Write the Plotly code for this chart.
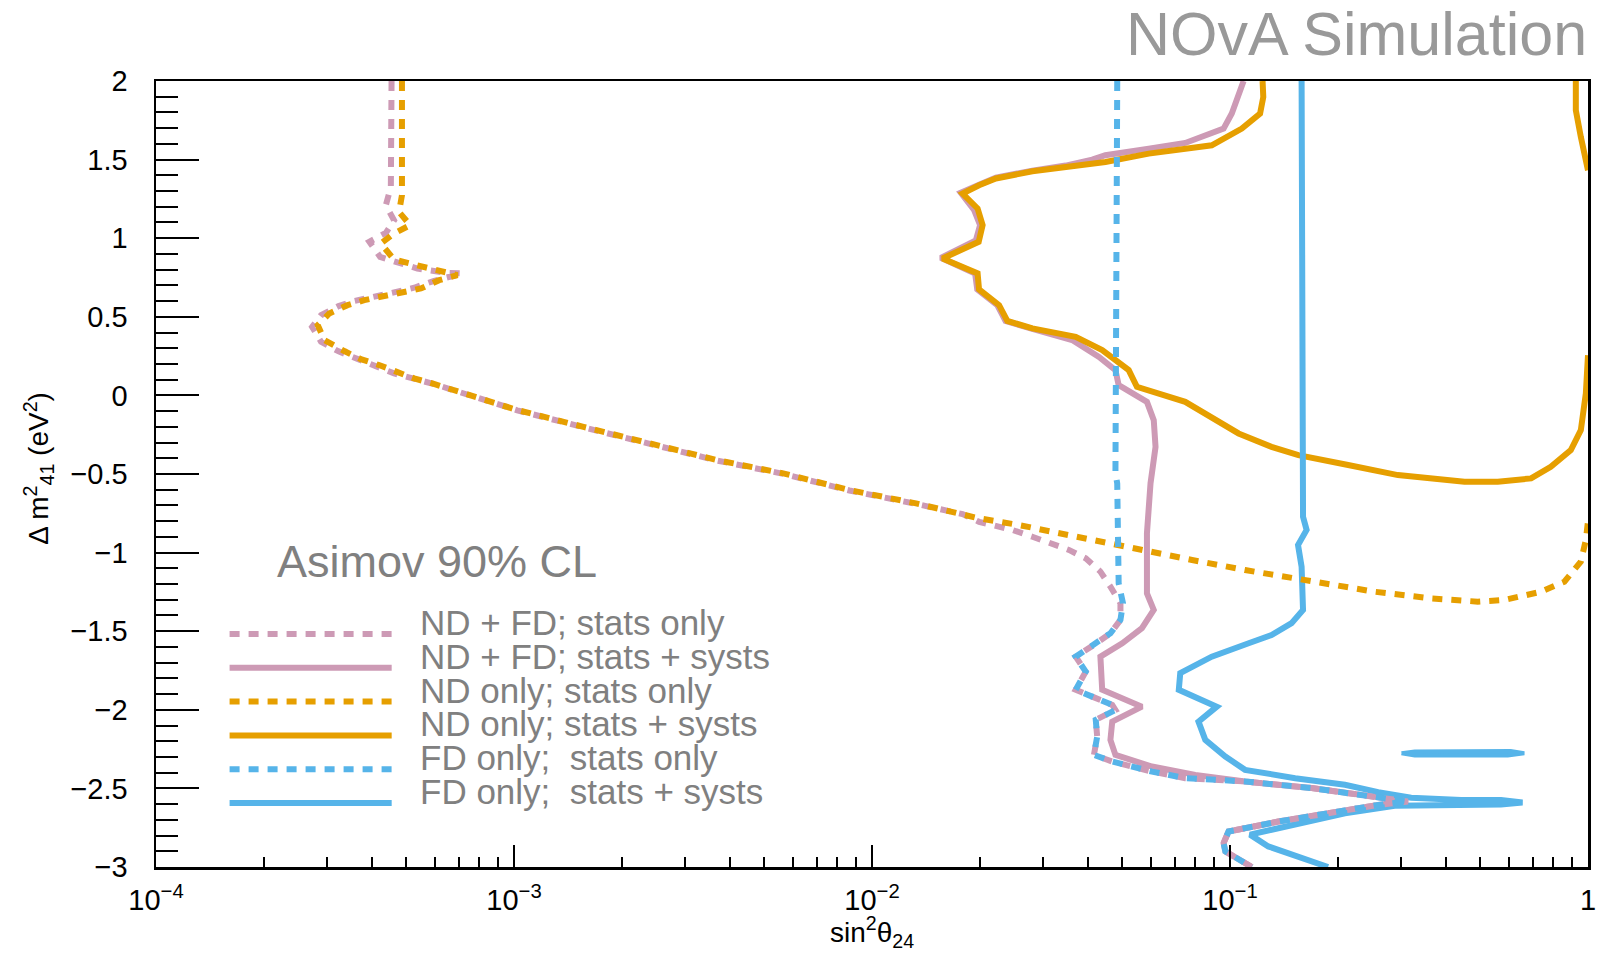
import numpy as np
import plotly.graph_objects as go

# ---------------- data ----------------
# x values are log10(sin^2 theta_24), y values are log10(Delta m^2_41 / eV^2)

# ND + FD; stats only
ndfd_stat_lx = [-3.342, -3.342, -3.344, -3.358, -3.335, -3.358, -3.404, -3.374, -3.325, -3.27,
                -3.186, -3.144, -3.223, -3.279, -3.335, -3.39, -3.446, -3.49, -3.539, -3.564,
                -3.539, -3.49, -3.437, -3.335, -3.223, -3.093, -2.991, -2.806, -2.62, -2.434,
                -2.248, -2.063, -1.877, -1.747, -1.701, -1.608, -1.552, -1.496, -1.45, -1.403,
                -1.362, -1.334, -1.306, -1.306, -1.334, -1.38, -1.431, -1.403, -1.431, -1.385,
                -1.329, -1.32, -1.375, -1.371, -1.38, -1.329, -1.218, -1.125, -0.958, -0.772,
                -0.633, -0.503, -0.586, -0.726, -0.865, -1.004, -1.018, -1.013, -0.939]
ndfd_stat_y = [2.0, 1.455, 1.326, 1.21, 1.114, 1.034, 0.977, 0.881, 0.843, 0.807,
               0.779, 0.776, 0.729, 0.685, 0.655, 0.631, 0.601, 0.568, 0.510, 0.436,
               0.341, 0.280, 0.229, 0.14, 0.072, -0.019, -0.095, -0.203, -0.308, -0.414,
               -0.499, -0.605, -0.690, -0.755, -0.804, -0.856, -0.899, -0.941, -0.983, -1.036,
               -1.121, -1.217, -1.322, -1.428, -1.513, -1.587, -1.662, -1.757, -1.873, -1.916,
               -1.969, -2.001, -2.064, -2.170, -2.287, -2.329, -2.393, -2.435, -2.456, -2.498,
               -2.541, -2.584, -2.605, -2.658, -2.711, -2.774, -2.848, -2.901, -3.0]

# ND + FD; stats + systs
ndfd_syst_lx = [-0.962, -0.995, -1.018, -1.069, -1.125, -1.227, -1.348, -1.385, -1.459, -1.552,
                -1.654, -1.701, -1.752, -1.715, -1.698, -1.710, -1.808, -1.712, -1.706, -1.650,
                -1.627, -1.557, -1.441, -1.366, -1.320, -1.311, -1.232, -1.213, -1.208, -1.222,
                -1.232, -1.232, -1.213, -1.246, -1.301, -1.362, -1.357, -1.246, -1.329, -1.334,
                -1.320, -1.218, -1.097, -0.958, -0.772, -0.633, -0.503, -0.586, -0.726, -0.865,
                -1.004, -1.018, -1.013, -0.939]
ndfd_syst_y = [2.0, 1.793, 1.697, 1.655, 1.606, 1.570, 1.528, 1.500, 1.462, 1.430,
               1.385, 1.340, 1.290, 1.180, 1.083, 0.985, 0.875, 0.776, 0.674, 0.574,
               0.474, 0.426, 0.352, 0.245, 0.161, 0.065, -0.041, -0.157, -0.327, -0.559,
               -0.877, -1.259, -1.365, -1.481, -1.577, -1.662, -1.873, -1.980, -2.075, -2.191,
               -2.287, -2.361, -2.414, -2.456, -2.498, -2.541, -2.584, -2.605, -2.658, -2.711,
               -2.774, -2.848, -2.901, -3.0]

# ND only; stats only
nd_stat_lx = [-3.313, -3.313, -3.321, -3.29, -3.335, -3.372, -3.335, -3.279, -3.223, -3.158,
              -3.209, -3.26, -3.316, -3.372, -3.418, -3.465, -3.516, -3.548, -3.53, -3.474,
              -3.428, -3.377, -3.325, -3.279, -3.228, -3.177, -3.126, -3.075, -2.991, -2.806,
              -2.62, -2.434, -2.248, -2.063, -1.877, -1.747, -1.701, -1.589, -1.478, -1.329,
              -1.218, -1.106, -0.958, -0.818, -0.698, -0.596, -0.438, -0.308, -0.233, -0.131,
              -0.066, -0.02, -0.006, 0.0]
nd_stat_y = [2.0, 1.273, 1.167, 1.083, 1.030, 0.966, 0.864, 0.828, 0.801, 0.765,
             0.733, 0.680, 0.655, 0.631, 0.606, 0.574, 0.521, 0.447, 0.352, 0.282,
             0.231, 0.193, 0.146, 0.108, 0.076, 0.038, 0.002, -0.03, -0.093, -0.2,
             -0.305, -0.411, -0.496, -0.602, -0.687, -0.75, -0.782, -0.825, -0.877, -0.952,
             -1.004, -1.047, -1.111, -1.163, -1.217, -1.249, -1.291, -1.312, -1.301, -1.249,
             -1.185, -1.058, -0.92, -0.80]

# ND only; stats + systs (two pieces, separated by a gap)
nd_syst_lx = [-0.909, -0.907, -0.916, -0.967, -1.051, -1.125, -1.227, -1.348, -1.459, -1.552,
              -1.654, -1.701, -1.747, -1.705, -1.691, -1.702, -1.803, -1.705, -1.701, -1.645,
              -1.622, -1.552, -1.431, -1.357, -1.283, -1.26, -1.125, -0.976, -0.884, -0.809,
              -0.670, -0.531, -0.345, -0.252, -0.159, -0.104, -0.048, -0.02, -0.006, 0.0,
              None, -0.034, -0.034, -0.02, 0.0]
nd_syst_y = [2.0, 1.898, 1.793, 1.697, 1.591, 1.570, 1.538, 1.485, 1.458, 1.426,
             1.380, 1.337, 1.284, 1.189, 1.083, 0.977, 0.871, 0.776, 0.674, 0.574,
             0.474, 0.426, 0.373, 0.288, 0.161, 0.055, -0.041, -0.242, -0.327, -0.380,
             -0.443, -0.507, -0.549, -0.549, -0.528, -0.454, -0.348, -0.221, 0.013, 0.256,
             None, 2.0, 1.814, 1.644, 1.432]

# FD only; stats only
fd_stat_lx = [-1.315, -1.32, -1.315, -1.311, -1.311, -1.299, -1.306, -1.334, -1.38, -1.431,
              -1.403, -1.431, -1.385, -1.329, -1.32, -1.375, -1.371, -1.38, -1.329, -1.218,
              -1.125, -0.958, -0.772, -0.633, -0.503, -0.586, -0.726, -0.865, -1.004, -1.018,
              -1.013, -0.939]
fd_stat_y = [2.0, -0.494, -0.56, -0.962, -1.195, -1.322, -1.428, -1.513, -1.587, -1.662,
             -1.757, -1.873, -1.916, -1.969, -2.001, -2.064, -2.170, -2.287, -2.329, -2.393,
             -2.435, -2.456, -2.498, -2.541, -2.584, -2.605, -2.658, -2.711, -2.774, -2.848,
             -2.901, -3.0]

# FD only; stats + systs
fd_syst_lx = [-0.8, -0.8, -0.8, -0.796, -0.786, -0.81, -0.8, -0.796, -0.828, -0.884,
              -0.948, -1.051, -1.139, -1.143, -1.037, -1.088, -1.069, -1.013, -0.958, -0.818,
              -0.679, -0.586, -0.494, -0.354, -0.243, -0.183, -0.243, -0.401, -0.54, -0.679,
              -0.818, -0.944, -0.893, -0.818, -0.726]
fd_syst_y = [2.0, -0.348, -0.538, -0.772, -0.856, -0.952, -1.09, -1.365, -1.449, -1.524,
             -1.577, -1.662, -1.767, -1.873, -1.980, -2.075, -2.191, -2.297, -2.382, -2.435,
             -2.477, -2.524, -2.560, -2.573, -2.573, -2.590, -2.603, -2.603, -2.610, -2.658,
             -2.731, -2.794, -2.869, -2.932, -3.0]
# small closed FD (stats + systs) island
fd_island_lx = [-0.521, -0.484, -0.216, -0.178, -0.224, -0.484, -0.521]
fd_island_y = [-2.276, -2.266, -2.262, -2.276, -2.290, -2.290, -2.276]

legend_labels = ["ND + FD; stats only", "ND + FD; stats + systs",
                 "ND only; stats only", "ND only; stats + systs",
                 "FD only;  stats only", "FD only;  stats + systs"]

x_tick_vals = [1e-4, 1e-3, 1e-2, 1e-1, 1]
x_tick_text = ["10<sup>\u22124</sup>", "10<sup>\u22123</sup>", "10<sup>\u22122</sup>",
               "10<sup>\u22121</sup>", "1"]
y_tick_vals = [2, 1.5, 1, 0.5, 0, -0.5, -1, -1.5, -2, -2.5, -3]
y_tick_text = ["2", "1.5", "1", "0.5", "0", "\u22120.5", "\u22121", "\u22121.5",
               "\u22122", "\u22122.5", "\u22123"]

# ---------------- styling ----------------
PINK = "#CD9AB5"
ORANGE = "#E69F00"
BLUE = "#56B4E9"
DOT = "10px,9px"
LW = 6
FONT = "Liberation Sans, Arial, Helvetica, sans-serif"


def to_x(lx):
    return [np.nan if v is None else 10 ** v for v in lx]


def to_y(y):
    return [np.nan if v is None else v for v in y]


fig = go.Figure()

traces = [
    (ndfd_syst_lx, ndfd_syst_y, PINK, "solid"),
    (nd_syst_lx, nd_syst_y, ORANGE, "solid"),
    (fd_syst_lx, fd_syst_y, BLUE, "solid"),
    (ndfd_stat_lx, ndfd_stat_y, PINK, DOT),
    (nd_stat_lx, nd_stat_y, ORANGE, DOT),
    (fd_stat_lx, fd_stat_y, BLUE, DOT),
]
for lx, y, c, d in traces:
    fig.add_trace(go.Scatter(x=to_x(lx), y=to_y(y), mode="lines",
                             line=dict(color=c, width=LW, dash=d),
                             connectgaps=False, showlegend=False, hoverinfo="skip"))
    if c == BLUE and d == "solid":
        fig.add_trace(go.Scatter(x=to_x(fd_island_lx), y=fd_island_y, mode="lines",
                                 fill="toself", fillcolor=BLUE,
                                 line=dict(color=BLUE, width=4),
                                 showlegend=False, hoverinfo="skip"))

# ---------------- layout ----------------
L, R, T, B = 156, 4, 81, 90
W, H = 1600, 957
PW, PH = W - L - R, H - T - B


def px_x(p):
    return (p - L) / PW


def px_y(p):
    return (H - B - p) / PH


minor_x = [k * 10.0 ** e for e in range(-4, 0) for k in range(2, 10)]
minor_y = [round(-3 + 0.1 * i, 1) for i in range(51) if i % 5 != 0]

fig.update_layout(
    width=W, height=H,
    margin=dict(l=L, r=R, t=T, b=B),
    paper_bgcolor="white", plot_bgcolor="white",
    font=dict(family=FONT, color="black"),
    xaxis=dict(type="log", range=[-4, 0], showgrid=False, zeroline=False,
               showline=True, linecolor="black", linewidth=2.5, mirror=True,
               ticks="inside", ticklen=22, tickwidth=2, tickcolor="black",
               tickmode="array", tickvals=x_tick_vals, ticktext=x_tick_text,
               tickfont=dict(family=FONT, size=29, color="black"),
               ticklabelstandoff=6, ticklabeloverflow="allow",
               minor=dict(tickmode="array", tickvals=minor_x, ticks="inside",
                          ticklen=10, tickwidth=2, tickcolor="black", showgrid=False)),
    yaxis=dict(range=[-3, 2], showgrid=False, zeroline=False,
               showline=True, linecolor="black", linewidth=2.5, mirror=True,
               ticks="inside", ticklen=43, tickwidth=2, tickcolor="black",
               tickmode="array", tickvals=y_tick_vals, ticktext=y_tick_text,
               tickfont=dict(family=FONT, size=29, color="black"),
               ticklabelstandoff=20, ticklabeloverflow="allow",
               minor=dict(tickmode="array", tickvals=minor_y, ticks="inside",
                          ticklen=22, tickwidth=2, tickcolor="black", showgrid=False)),
)

ann = []
shapes = []
ann.append(dict(text="NOvA Simulation", x=1, xref="paper", xanchor="right", xshift=1,
                y=px_y(34.5), yref="paper", yanchor="middle", showarrow=False,
                font=dict(family=FONT, size=61, color="#999999")))
ann.append(dict(text="Asimov 90% CL", x=px_x(276), xref="paper", xanchor="left",
                y=px_y(561), yref="paper", yanchor="middle", showarrow=False,
                font=dict(family=FONT, size=45, color="#808080")))
ann.append(dict(text="sin<sup>2</sup>\u03b8<sub>24</sub>", x=0.5, xref="paper", xanchor="center",
                y=px_y(932), yref="paper", yanchor="middle", showarrow=False,
                font=dict(family=FONT, size=28, color="black")))
ann.append(dict(text="\u0394 m<sup>2</sup><sub>41</sub> (eV<sup>2</sup>)", textangle=-90,
                x=px_x(38), xref="paper", xanchor="center",
                y=px_y(468), yref="paper", yanchor="middle", showarrow=False,
                font=dict(family=FONT, size=28, color="black")))

leg_style = [(PINK, DOT), (PINK, "solid"), (ORANGE, DOT), (ORANGE, "solid"),
             (BLUE, DOT), (BLUE, "solid")]
for i, (lab, (c, d)) in enumerate(zip(legend_labels, leg_style)):
    ly = 634 + i * 33.8
    shapes.append(dict(type="line", xref="paper", yref="paper",
                       x0=px_x(230), x1=px_x(393), y0=px_y(ly), y1=px_y(ly),
                       line=dict(color=c, width=LW, dash=d)))
    ann.append(dict(text=lab, x=px_x(419), xref="paper", xanchor="left",
                    y=px_y(ly - 11.5), yref="paper", yanchor="middle", showarrow=False,
                    font=dict(family=FONT, size=35, color="#808080")))

fig.update_layout(annotations=ann, shapes=shapes)

fig.write_html("out.html",
               config={"displayModeBar": False, "staticPlot": True},
               post_script="document.body.style.margin='0';document.body.style.overflow='hidden';")
